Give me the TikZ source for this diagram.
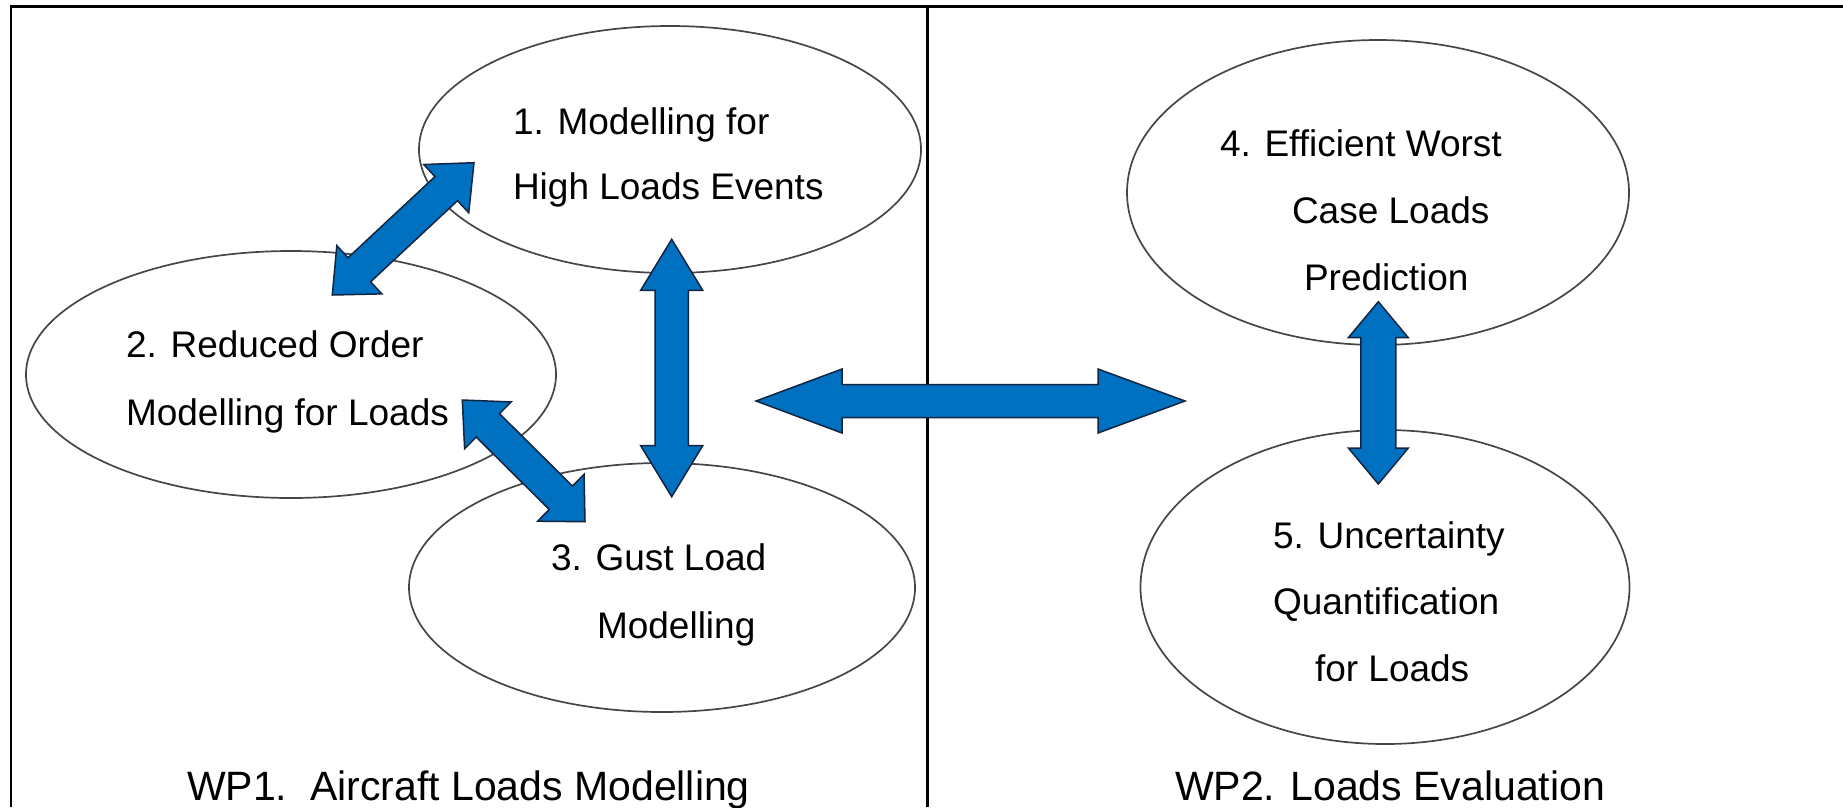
\documentclass[tikz,border=0pt]{standalone}
\usepackage{fontspec}
\setmainfont{Liberation Sans}
\usetikzlibrary{calc,shapes.geometric}
\definecolor{arrowblue}{RGB}{0,112,192}
\definecolor{arrowedge}{RGB}{18,36,64}
\definecolor{ellline}{RGB}{70,70,70}
\newcommand\myblockarrow[6]{%
  \filldraw[barrow] (#1)
    -- ($(#1)!#5!(#2)!#4!90:(#2)$)
    -- ($(#1)!#5!(#2)!#3!90:(#2)$)
    -- ($(#2)!#6!(#1)!#3!-90:(#1)$)
    -- ($(#2)!#6!(#1)!#4!-90:(#1)$)
    -- (#2)
    -- ($(#2)!#6!(#1)!#4!90:(#1)$)
    -- ($(#2)!#6!(#1)!#3!90:(#1)$)
    -- ($(#1)!#5!(#2)!#3!-90:(#2)$)
    -- ($(#1)!#5!(#2)!#4!-90:(#2)$)
    -- cycle;}
\begin{document}
\begin{tikzpicture}[x=1pt,y=-1pt,
  ell/.style={draw=ellline, line width=1.7pt, ellipse, inner sep=0pt, outer sep=0pt},
  barrow/.style={fill=arrowblue, draw=arrowedge, line width=1.5pt, line join=miter},
  frame/.style={draw=black, line width=2.7pt},
  txt/.style={inner sep=0pt, outer sep=0pt, anchor=base west, font=\fontsize{37}{44}\selectfont},
  wptxt/.style={inner sep=0pt, outer sep=0pt, anchor=base west, font=\fontsize{41}{48}\selectfont}]
\useasboundingbox (0,0) rectangle (1843,807);
% frame
\coordinate (fl) at (11,807);
\coordinate (ftl) at (11,6.3);
\coordinate (ftr) at (1843,6.3);
\coordinate (dt) at (927.5,6.3);
\coordinate (db) at (927.5,807);
\draw[frame] (fl) -- (ftl) -- (ftr);
\draw[frame] (dt) -- (db);
% ellipses
\node[ell, minimum width=502pt, minimum height=247pt] (e1) at (670,149.5) {};
\node[ell, minimum width=530pt, minimum height=247pt] (e2) at (291,374.5) {};
\node[ell, minimum width=506pt, minimum height=249pt] (e3) at (662,587.5) {};
\node[ell, minimum width=502pt, minimum height=305pt] (e4) at (1378,192.5) {};
\node[ell, minimum width=489pt, minimum height=314pt] (e5) at (1385,587) {};
% arrow end points
\coordinate (a12s) at (332.3,295);
\coordinate (a12e) at (474,162.7);
\coordinate (a23s) at (462.3,400);
\coordinate (a23e) at (585,521.7);
\coordinate (a13s) at (671.7,239.3);
\coordinate (a13e) at (671.7,496.7);
\coordinate (a45s) at (1378.3,301.7);
\coordinate (a45e) at (1378.3,484);
\coordinate (ahs) at (756,401);
\coordinate (ahe) at (1185,401);
% block arrows
\myblockarrow{a12s}{a12e}{16.5pt}{33pt}{37pt}{38pt}
\myblockarrow{a23s}{a23e}{16.5pt}{33pt}{36pt}{34pt}
\myblockarrow{a13s}{a13e}{16.7pt}{31pt}{51pt}{51pt}
\myblockarrow{a45s}{a45e}{17.5pt}{30pt}{36pt}{36pt}
\myblockarrow{ahs}{ahe}{16.5pt}{32pt}{86pt}{87pt}
% texts
\node[txt] (t1a) at (513,134) {1. Modelling for};
\node[txt] (t1b) at (513,199) {High Loads Events};
\node[txt] (t2a) at (126,357) {2. Reduced Order};
\node[txt] (t2b) at (126,425) {Modelling for Loads};
\node[txt] (t3a) at (551,570) {3. Gust Load};
\node[txt] (t3b) at (597,638) {Modelling};
\node[txt] (t4a) at (1220,156) {4. Efficient Worst};
\node[txt] (t4b) at (1292,223) {Case Loads};
\node[txt] (t4c) at (1304,290) {Prediction};
\node[txt] (t5a) at (1273,548) {5. Uncertainty};
\node[txt] (t5b) at (1273,614) {Quantification};
\node[txt] (t5c) at (1315,681) {for Loads};
\node[wptxt] (wp1) at (187,800.7) {WP1.\ \ Aircraft Loads Modelling};
\node[wptxt] (wp2) at (1175,800.5) {WP2. Loads Evaluation};
\end{tikzpicture}
\end{document}
